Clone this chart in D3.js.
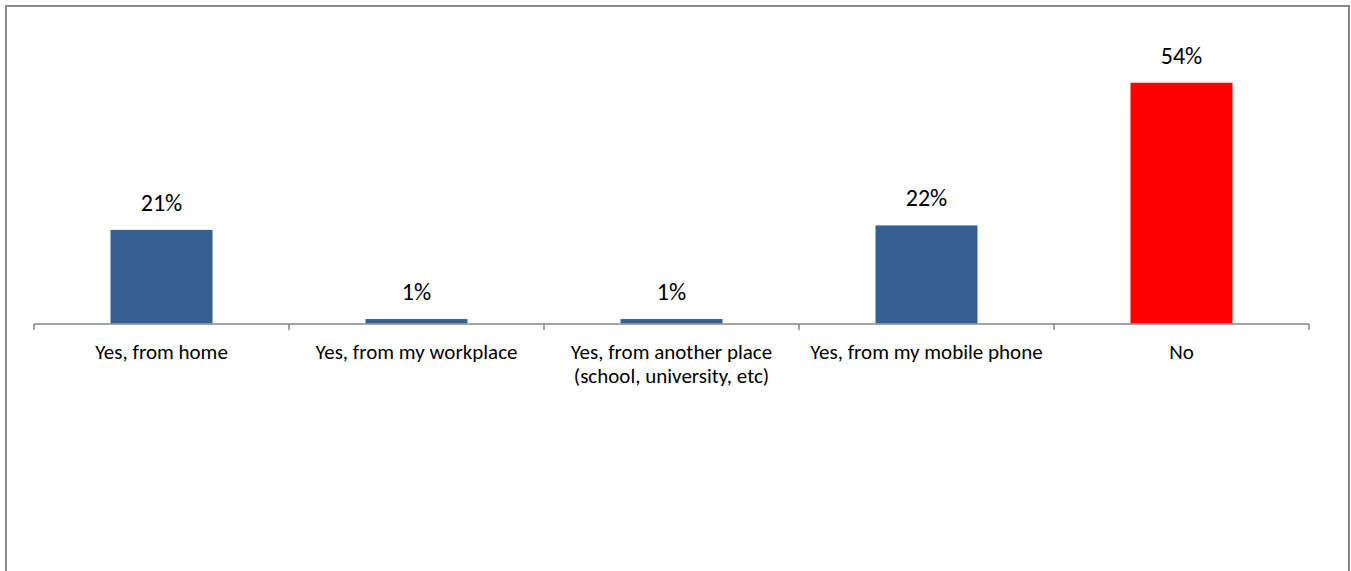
<!DOCTYPE html>
<html>
<head>
<meta charset="utf-8">
<script src="https://cdn.jsdelivr.net/npm/d3@7"></script>
<style>
  html, body { margin: 0; padding: 0; background: #ffffff; }
  svg { display: block; }
  text { font-family: Carlito, Lato, "Open Sans", sans-serif; fill: #000000; }
</style>
</head>
<body>
<svg id="chart" width="1351" height="571"></svg>
<script>
// Survey answers: where respondents access the internet
const categories = [
  ["Yes, from home"],
  ["Yes, from my workplace"],
  ["Yes, from another place", "(school, university, etc)"],
  ["Yes, from my mobile phone"],
  ["No"]
];
const values = [21, 1, 1, 22, 54];
const valueLabels = ["21%", "1%", "1%", "22%", "54%"];
const barColors = ["#376092", "#376092", "#376092", "#376092", "#FF0000"];

const svg = d3.select("#chart");

// outer frame
svg.append("rect")
  .attr("x", 6).attr("y", 6)
  .attr("width", 1343).attr("height", 600)
  .attr("fill", "none")
  .attr("stroke", "#878787")
  .attr("stroke-width", 2);

const idx = d3.range(categories.length);

const x = d3.scaleBand()
  .domain(idx)
  .range([34, 1309])
  .paddingInner(0.6)
  .paddingOuter(0.3);

const y = d3.scaleLinear()
  .domain([0, 60])
  .range([323.5, 56]);

// bars
svg.append("g").selectAll("rect")
  .data(idx)
  .join("rect")
  .attr("x", i => x(i))
  .attr("y", i => y(values[i]))
  .attr("width", x.bandwidth())
  .attr("height", i => y(0) - y(values[i]))
  .attr("fill", i => barColors[i]);

// value labels
svg.append("g").selectAll("text")
  .data(idx)
  .join("text")
  .attr("x", i => x(i) + x.bandwidth() / 2)
  .attr("y", i => y(values[i]) - 19)
  .attr("text-anchor", "middle")
  .style("font-size", "24px")
  .text(i => valueLabels[i]);

// category axis with ticks at band boundaries
const step = x.step();
const boundaries = [x(0) - step * x.paddingOuter()].concat(idx.map(i => x(i) - step * x.paddingOuter() + step));
const axisY = y(0) + 0.5;
const axis = svg.append("g");
axis.append("line")
  .attr("x1", boundaries[0]).attr("x2", boundaries[boundaries.length - 1])
  .attr("y1", axisY).attr("y2", axisY)
  .attr("stroke", "#868686").attr("stroke-width", 1.5);
axis.selectAll("line.tick")
  .data(boundaries)
  .join("line")
  .attr("class", "tick")
  .attr("x1", d => d).attr("x2", d => d)
  .attr("y1", axisY).attr("y2", axisY + 6)
  .attr("stroke", "#868686").attr("stroke-width", 1.5);

const catText = axis.selectAll("text.cat")
  .data(idx)
  .join("text")
  .attr("class", "cat")
  .attr("x", i => x(i) + x.bandwidth() / 2)
  .attr("y", 359)
  .attr("text-anchor", "middle")
  .style("font-size", "21px");
catText.selectAll("tspan")
  .data(i => categories[i])
  .join("tspan")
  .attr("x", function () { return d3.select(this.parentNode).attr("x"); })
  .attr("dy", (d, j) => j === 0 ? 0 : 24)
  .text(d => d);
</script>
</body>
</html>
